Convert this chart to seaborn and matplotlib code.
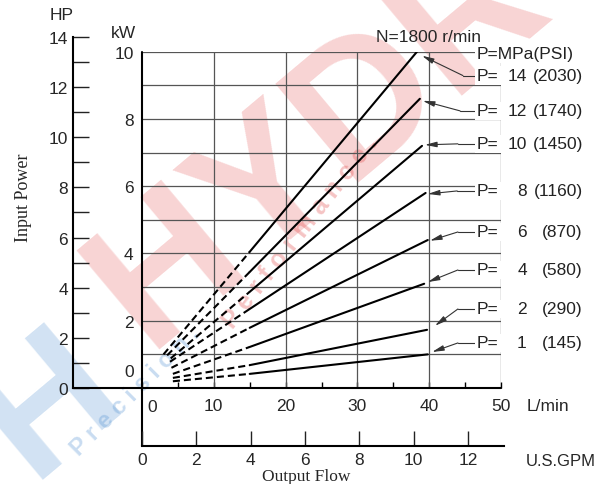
import pandas as pd
import matplotlib
matplotlib.use("Agg")
import matplotlib.pyplot as plt
import seaborn as sns

# input power curves at N=1800 r/min (flow in L/min, power in kW)
pressure_mpa = [14, 12, 10, 8, 6, 4, 2, 1]
pressure_psi = [2030, 1740, 1450, 1160, 870, 580, 290, 145]
start_flow = [3.0, 3.5, 4.0, 3.9, 4.1, 4.3, 4.3, 4.3]
start_kw = [1.00, 0.97, 0.88, 0.78, 0.60, 0.42, 0.30, 0.20]
solid_flow = [15, 15, 15, 15, 15, 15, 15, 15]
solid_kw = [4.05, 3.45, 2.86, 2.35, 1.79, 1.22, 0.68, 0.42]
end_flow = [38.3, 38.7, 39.0, 39.5, 39.8, 39.3, 39.7, 39.8]
end_kw = [10.0, 8.6, 7.2, 5.8, 4.4, 3.1, 1.73, 1.0]

# leader lines from the pressure labels
label_kw = [9.29, 8.24, 7.26, 5.86, 4.64, 3.51, 2.35, 1.34]
elbow_flow = [44.7, 44.3, 44.0, 43.9, 44.0, 44.0, 44.0, 44.0]
arrow_flow = [39.0, 39.1, 39.4, 39.8, 40.1, 39.8, 40.8, 40.4]
arrow_kw = [9.88, 8.54, 7.23, 5.77, 4.38, 3.15, 1.85, 1.07]

flow_ticks = [0, 10, 20, 30, 40, 50]
flow_minor = [5, 15, 25, 35, 45]
kw_ticks = [0.55, 2, 4, 6, 8, 10]  # the "0" sits above the axis in the original
kw_labels = ["0", "2", "4", "6", "8", "10"]
hp_ticks = [0, 2, 4, 6, 8, 10, 12, 14]
hp_minor = [1, 3, 5, 7, 9, 11, 13]
gpm_ticks = [0, 2, 4, 6, 8, 10, 12]

rows = []
for i, p in enumerate(pressure_mpa):
    rows.append(dict(flow=start_flow[i], kw=start_kw[i], seg=f"{p}a", part="dash"))
    rows.append(dict(flow=solid_flow[i], kw=solid_kw[i], seg=f"{p}a", part="dash"))
    rows.append(dict(flow=solid_flow[i], kw=solid_kw[i], seg=f"{p}b", part="solid"))
    rows.append(dict(flow=end_flow[i], kw=end_kw[i], seg=f"{p}b", part="solid"))
df = pd.DataFrame(rows)

sns.set_style("white")
plt.rcParams["font.family"] = ["Liberation Sans", "DejaVu Sans"]
FS = 12.5

W, H = 600, 485
fig = plt.figure(figsize=(6, 4.85), dpi=100)


def rect(x0, y0, x1, y1):
    return [x0 / W, 1 - y1 / H, (x1 - x0) / W, (y1 - y0) / H]


def ftext(x, y, s, **kw):
    fig.text(x / W, 1 - y / H, s, **kw)


# watermark (behind the chart)
ftext(375, 95, "HYDRO", rotation=40, fontsize=135, fontweight="bold", color="#e03c3c",
      alpha=0.22, ha="center", va="center", rotation_mode="anchor", zorder=-5)
ftext(50, 405, "H", rotation=40, fontsize=125, fontweight="bold", color="#4a8cd0",
      alpha=0.25, ha="center", va="center", rotation_mode="anchor", zorder=-5)
ftext(135, 392, "P r e c i s i o n .", rotation=45, fontsize=17, fontweight="bold",
      color="#4a8cd0", alpha=0.3, ha="center", va="center", rotation_mode="anchor", zorder=-5)
ftext(300, 232, "P e r f o r m a n c e .", rotation=52, fontsize=18, fontweight="bold",
      color="#e03c3c", alpha=0.3, ha="center", va="center", rotation_mode="anchor", zorder=-5)

# main chart: L/min vs kW
ax = fig.add_axes(rect(142, 52.7, 501, 389))
ax.patch.set_alpha(0)
sns.lineplot(data=df, x="flow", y="kw", units="seg", estimator=None, style="part",
             dashes={"dash": (3.4, 1.9), "solid": ""}, color="black", lw=1.5,
             legend=False, sort=False, ax=ax)
ax.set_xlim(0, 50)
ax.set_ylim(0, 10)
ax.set_xlabel("")
ax.set_ylabel("")
for s in ax.spines.values():
    s.set_visible(False)
ax.hlines(range(1, 11), 0, 50, color="#555555", lw=0.9, zorder=1)
ax.vlines(range(10, 51, 10), 0, 10, color="#555555", lw=0.9, zorder=1)
ax.plot([0, 50], [0, 0], color="black", lw=1.5, clip_on=False, zorder=3)
ax.plot([0, 0], [10, -1.73], color="black", lw=1.5, clip_on=False, zorder=3)

ax.set_xticks(flow_ticks)
ax.set_xticklabels([""] + [str(t) for t in flow_ticks[1:]])
ax.set_xticks(flow_minor, minor=True)
ax.tick_params(axis="x", which="both", direction="in", length=4.5, width=1,
               bottom=True, pad=7, labelsize=FS, color="black")
ax.annotate("0", xy=(0, 0), xytext=(7, -13), textcoords="offset points",
            ha="center", va="center", fontsize=FS)
ax.set_yticks(kw_ticks)
ax.set_yticklabels(kw_labels)
ax.tick_params(axis="y", length=0, pad=6, labelsize=FS)

# pressure labels with leaders
for i in range(len(pressure_mpa)):
    ax.plot([46.5, elbow_flow[i]], [label_kw[i], label_kw[i]], color="#333333",
            lw=0.8, clip_on=False)
    ax.annotate("", xy=(arrow_flow[i], arrow_kw[i]), xytext=(elbow_flow[i], label_kw[i]),
                arrowprops=dict(arrowstyle="-|>,head_length=0.7,head_width=0.16",
                                color="#333333", lw=0.8, shrinkA=0, shrinkB=0),
                annotation_clip=False)
    ax.text(46.66, label_kw[i], "P=", ha="left", va="center", fontsize=FS,
            color="#222222", bbox=dict(fc="white", ec="none", pad=1.2), zorder=5)
    ax.text(53.6, label_kw[i], str(pressure_mpa[i]), ha="right", va="center",
            fontsize=FS, color="#222222")
    ax.text(61.4, label_kw[i], f"({pressure_psi[i]})", ha="right", va="center",
            fontsize=FS, color="#222222")
ax.text(46.66, 9.94, "P=MPa(PSI)", ha="left", va="center", fontsize=FS,
        color="#222222", bbox=dict(fc="white", ec="none", pad=1.2), zorder=5)

# HP scale on the far left
ax_hp = fig.add_axes(rect(73, 37.9, 142, 389))
ax_hp.patch.set_alpha(0)
ax_hp.set_ylim(0, 14)
ax_hp.set_xlim(0, 1)
ax_hp.spines["top"].set_visible(False)
ax_hp.spines["right"].set_visible(False)
ax_hp.spines["left"].set_linewidth(1.5)
ax_hp.spines["bottom"].set_linewidth(1.5)
ax_hp.spines["left"].set_color("black")
ax_hp.spines["bottom"].set_color("black")
ax_hp.set_xticks([])
ax_hp.set_yticks(hp_ticks)
ax_hp.set_yticks(hp_minor, minor=True)
ax_hp.tick_params(axis="y", which="both", direction="in", length=11.5, width=1,
                  left=True, pad=3.5, labelsize=FS, color="#222222")

# U.S.GPM scale below
ax_g = fig.add_axes(rect(142, 440, 504, 447))
ax_g.patch.set_alpha(0)
ax_g.set_xlim(0, 362 / (7.18 * 3.785))
for k in ["top", "right", "left"]:
    ax_g.spines[k].set_visible(False)
ax_g.spines["bottom"].set_linewidth(1.5)
ax_g.spines["bottom"].set_color("black")
ax_g.set_yticks([])
ax_g.set_xticks(gpm_ticks)
ax_g.tick_params(axis="x", direction="in", length=11, width=1, bottom=True,
                 pad=4, labelsize=FS, color="#222222")

# axis titles and notes
ftext(62, 16, "HP", ha="center", va="center", fontsize=FS)
ftext(123, 33, "kW", ha="center", va="center", fontsize=FS)
ftext(428, 37, "N=1800 r/min", ha="center", va="center", fontsize=FS)
ftext(527, 407, "L/min", ha="left", va="center", fontsize=FS)
ftext(526, 462, "U.S.GPM", ha="left", va="center", fontsize=12)
ftext(306, 477, "Output Flow", ha="center", va="center", fontsize=12.5,
      family="Liberation Serif")
ftext(24, 198, "Input Power", ha="center", va="center", fontsize=13, rotation=90,
      family="Liberation Serif")

fig.savefig("out.png", dpi=100)
